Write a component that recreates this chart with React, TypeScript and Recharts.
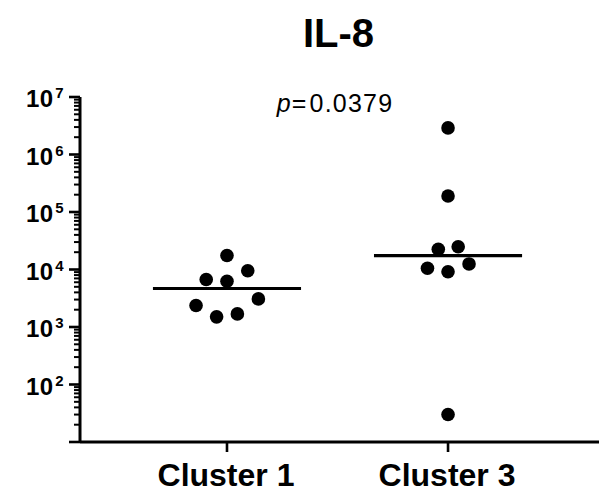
import React from "react";
import { ScatterChart, Scatter, XAxis, YAxis, ReferenceLine } from "recharts";

const categories = ["Cluster 1", "Cluster 3"];
const categoryPositions = [1, 2];
const cluster1Values = [17500, 9500, 6700, 6250, 3080, 2360, 1500, 1690];
const cluster1Jitter = [0, 0.094, -0.094, 0, 0.142, -0.14, -0.047, 0.047];
const cluster3Values = [2900000, 190000, 22500, 24900, 12500, 10500, 9160, 30];
const cluster3Jitter = [0, 0, -0.044, 0.046, 0.095, -0.093, 0, 0];
const medians = [4670, 17500];
const medianHalfWidth = 0.335;
const majorExponents = [1, 2, 3, 4, 5, 6, 7];
const labeledExponents = [2, 3, 4, 5, 6, 7];
const minorMultipliers = [2, 3, 4, 5, 6, 7, 8, 9];
const title = "IL-8";
const pValue = "0.0379";

const FONT = "'Liberation Sans', Arial, Helvetica, sans-serif";

const cluster1Data = cluster1Values.map((v, i) => ({ x: categoryPositions[0] + cluster1Jitter[i], y: v }));
const cluster3Data = cluster3Values.map((v, i) => ({ x: categoryPositions[1] + cluster3Jitter[i], y: v }));

const yTicks: number[] = [];
majorExponents.forEach((e) => {
  yTicks.push(Math.pow(10, e));
  if (e < 7) minorMultipliers.forEach((m) => yTicks.push(m * Math.pow(10, e)));
});

const isMajor = (v: number) => {
  const l = Math.log10(v);
  return Math.abs(l - Math.round(l)) < 1e-9;
};

const YTick = (props: any) => {
  const { x, y, payload } = props;
  const v = payload.value;
  const major = isMajor(v);
  const exp = Math.round(Math.log10(v));
  return (
    <g>
      <line x1={x - (major ? 11 : 6)} x2={x} y1={y} y2={y} stroke="#000" strokeWidth={major ? 2.6 : 2} />
      {major && labeledExponents.includes(exp) && (
        <text x={26} y={y + 10} fontFamily={FONT} fontWeight="bold" fontSize={24} letterSpacing={0.5} fill="#000">
          10
          <tspan dx={1.5} dy={-8.7} fontSize={15}>
            {exp}
          </tspan>
        </text>
      )}
    </g>
  );
};

const XTick = (props: any) => {
  const { x, y, payload } = props;
  const idx = categoryPositions.indexOf(payload.value);
  return (
    <g>
      <line x1={x} x2={x} y1={y} y2={y + 10} stroke="#000" strokeWidth={2.6} />
      <text x={x - 1} y={y + 44} textAnchor="middle" fontFamily={FONT} fontWeight="bold" fontSize={32} fill="#000">
        {idx >= 0 ? categories[idx] : ""}
      </text>
    </g>
  );
};

const Dot = (props: any) => {
  const { cx, cy } = props;
  if (cx == null || cy == null) return null;
  return <circle cx={cx} cy={cy} r={6.8} fill="#000" />;
};

export default function App() {
  return (
    <div style={{ position: "absolute", left: 0, top: 0, width: 609, height: 494, background: "#fff" }}>
      <ScatterChart width={609} height={494} margin={{ top: 97, right: 10, bottom: 0, left: 0 }}>
        <XAxis
          type="number"
          dataKey="x"
          domain={[0.335, 2.683]}
          allowDataOverflow
          ticks={categoryPositions}
          tick={<XTick />}
          tickLine={false}
          tickSize={0}
          tickMargin={0}
          height={52}
          axisLine={{ stroke: "#000", strokeWidth: 3 }}
          interval={0}
        />
        <YAxis
          type="number"
          dataKey="y"
          scale="log"
          domain={[10, 10000000]}
          allowDataOverflow
          ticks={yTicks}
          tick={<YTick />}
          tickLine={false}
          tickSize={0}
          tickMargin={0}
          width={80}
          interval={0}
          axisLine={{ stroke: "#000", strokeWidth: 3 }}
        />
        {medians.map((m, i) => (
          <ReferenceLine
            key={i}
            segment={[
              { x: categoryPositions[i] - medianHalfWidth, y: m },
              { x: categoryPositions[i] + medianHalfWidth, y: m },
            ]}
            stroke="#000"
            strokeWidth={3.2}
          />
        ))}
        <Scatter data={cluster1Data} shape={<Dot />} isAnimationActive={false} />
        <Scatter data={cluster3Data} shape={<Dot />} isAnimationActive={false} />
      </ScatterChart>
      <svg width={609} height={494} style={{ position: "absolute", left: 0, top: 0, pointerEvents: "none" }}>
        <text x={338.5} y={46.7} textAnchor="middle" fontFamily={FONT} fontWeight="bold" fontSize={40} fill="#000">
          {title}
        </text>
        <text x={276.7} y={112.3} fontFamily={FONT} fontSize={25} letterSpacing={1.2} fill="#000">
          <tspan fontStyle="italic">p</tspan>
          <tspan>=</tspan>
          <tspan dx={2}>{pValue}</tspan>
        </text>
      </svg>
    </div>
  );
}
